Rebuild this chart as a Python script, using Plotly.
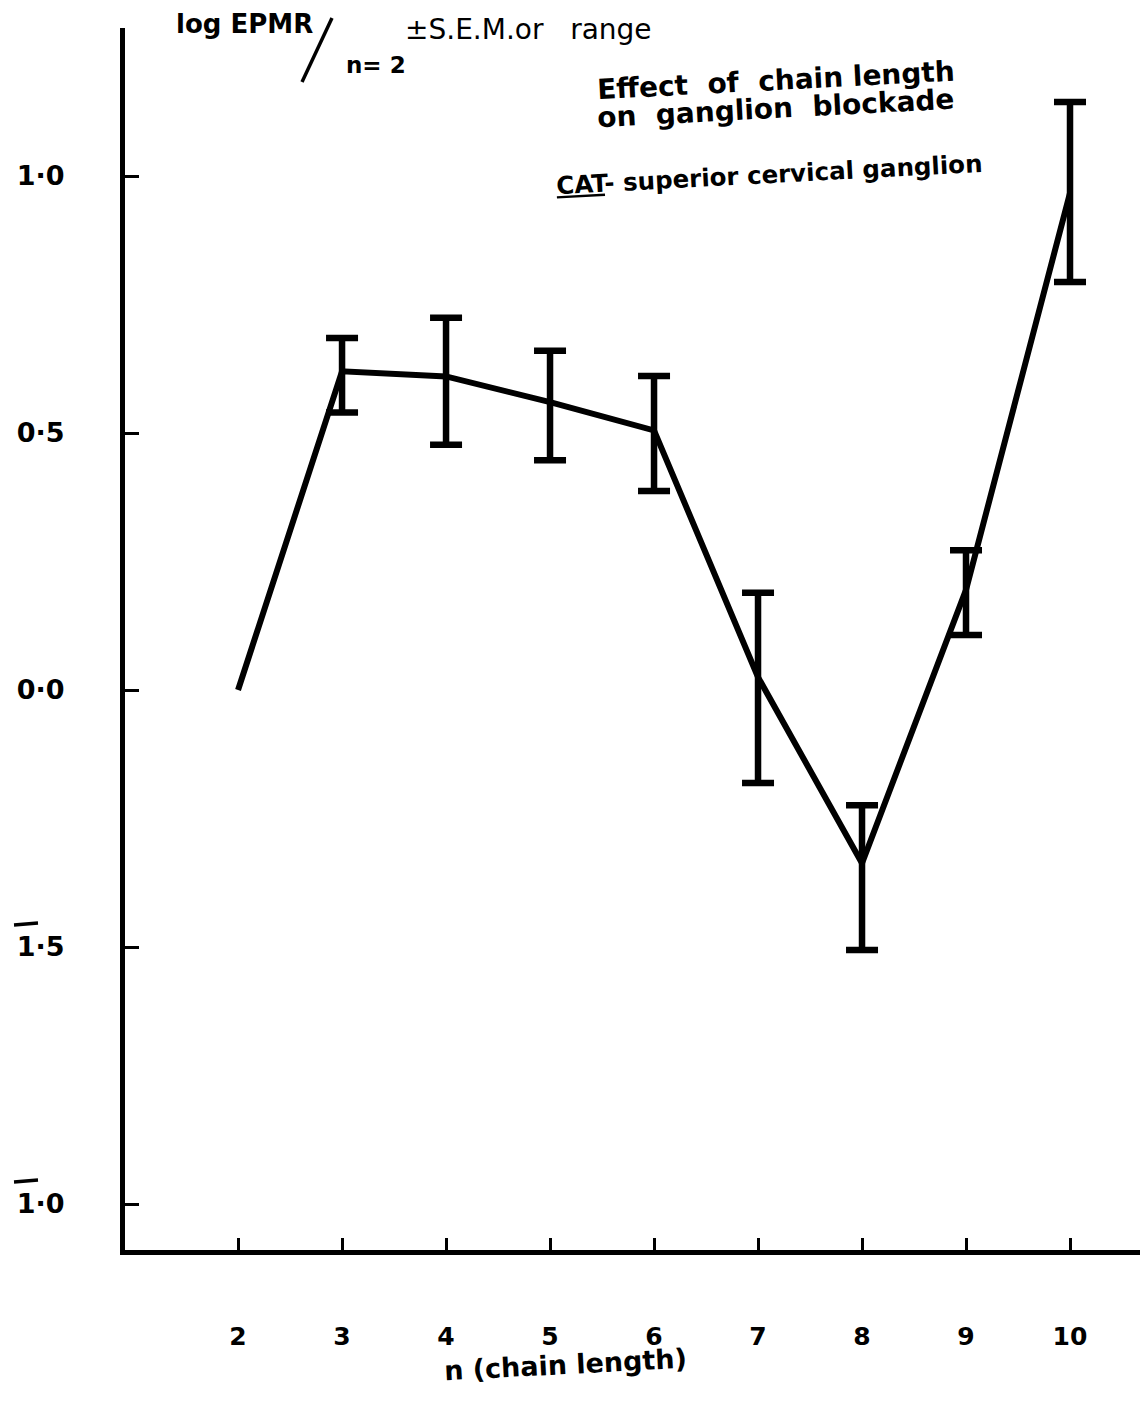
import plotly.graph_objects as go

# ---- data ----
chain_length = [2, 3, 4, 5, 6, 7, 8, 9, 10]
log_epmr = [0.0, 0.62, 0.61, 0.56, 0.505, 0.025, -0.337, 0.195, 0.967]
# error bars (± S.E.M. or range); n=2 has none
err_n = [3, 4, 5, 6, 7, 8, 9, 10]
err_plus = [0.065, 0.114, 0.10, 0.106, 0.164, 0.113, 0.077, 0.177]
err_minus = [0.08, 0.133, 0.113, 0.118, 0.206, 0.169, 0.088, 0.173]

y_tickvals = [1.0, 0.5, 0.0, -0.5, -1.0]
y_ticktext = ["1·0", "0·5", "0·0", "1·5", "1·0"]
y_bar_ticks = [-0.5, -1.0]   # labels written with a bar over the characteristic
x_tickvals = chain_length
x_ticktext = [str(v) for v in chain_length]

# ---- layout geometry helpers ----
W, H = 1140, 1401
ML, MR, MT, MB = 125, 0, 28, 151
PW, PH = W - ML - MR, H - MT - MB
Y0_PX, UNIT_PX = 690, 514   # pixel row of y=0, pixels per unit


def px(x):
    return (x - ML) / PW


def py(y):
    return (H - MB - y) / PH


FONT = "DejaVu Sans"

err_y = [log_epmr[chain_length.index(n)] for n in err_n]

fig = go.Figure()
fig.add_trace(go.Scatter(
    x=chain_length, y=log_epmr, mode="lines",
    line=dict(color="black", width=6), showlegend=False,
))
fig.add_trace(go.Scatter(
    x=err_n, y=err_y, mode="markers", marker=dict(size=1, color="black", opacity=0),
    error_y=dict(type="data", symmetric=False, array=err_plus, arrayminus=err_minus,
                 color="black", thickness=6.5, width=16),
    showlegend=False,
))

fig.update_layout(
    width=W, height=H,
    margin=dict(l=ML, r=MR, t=MT, b=MB),
    plot_bgcolor="white", paper_bgcolor="white",
    font=dict(family=FONT, color="black"),
    xaxis=dict(
        range=[0.913, 10.673], tickvals=x_tickvals, ticktext=x_ticktext,
        showgrid=False, zeroline=False, showline=True, linecolor="black", linewidth=5,
        ticks="inside", ticklen=12, tickwidth=3, tickcolor="black",
        tickfont=dict(size=25, family=FONT, weight="bold"),
        ticklabelstandoff=60,
    ),
    yaxis=dict(
        range=[(Y0_PX - (H - MB)) / UNIT_PX, (Y0_PX - MT) / UNIT_PX],
        tickvals=y_tickvals, ticktext=y_ticktext,
        showgrid=False, zeroline=False, showline=True, linecolor="black", linewidth=5,
        ticks="inside", ticklen=14, tickwidth=3, tickcolor="black",
        tickfont=dict(size=27, family=FONT, weight="bold"),
        ticklabelstandoff=50,
    ),
)

annotations = [
    dict(text="log EPMR", x=px(174), y=py(41), xanchor="left", yanchor="bottom",
         font=dict(size=26, weight="bold")),
    dict(text="n= 2", x=px(344), y=py(80), xanchor="left", yanchor="bottom",
         font=dict(size=23, weight="bold")),
    dict(text="±S.E.M.or   range", x=px(403), y=py(48), xanchor="left", yanchor="bottom",
         font=dict(size=28)),
    dict(text="Effect  of  chain length", x=px(594), y=py(108), xanchor="left",
         yanchor="bottom", textangle=-3, font=dict(size=28, weight="bold")),
    dict(text="on  ganglion  blockade", x=px(594), y=py(136), xanchor="left",
         yanchor="bottom", textangle=-3, font=dict(size=28, weight="bold")),
    dict(text="<span style='text-decoration:underline'>CAT</span>- superior cervical ganglion",
         x=px(553), y=py(202), xanchor="left", yanchor="bottom", textangle=-3,
         font=dict(size=24.5, weight="bold")),
    dict(text="n (chain length)", x=px(565), y=py(1388), xanchor="center",
         yanchor="bottom", textangle=-3, font=dict(size=27, weight="bold")),
]
for a in annotations:
    a.update(xref="paper", yref="paper", showarrow=False)
fig.update_layout(annotations=annotations)

# slash of "log EPMR / n=2"
fig.add_shape(type="line", xref="paper", yref="paper",
              x0=px(332), y0=py(18), x1=px(302), y1=py(82),
              line=dict(color="black", width=3.5))

# bars over the characteristic of negative log tick labels
for v in y_bar_ticks:
    yy = Y0_PX - v * UNIT_PX - 22
    fig.add_shape(type="line", xref="paper", yref="paper",
                  x0=px(14), y0=py(yy), x1=px(38), y1=py(yy - 2),
                  line=dict(color="black", width=3.5))

fig.write_html("out.html")
